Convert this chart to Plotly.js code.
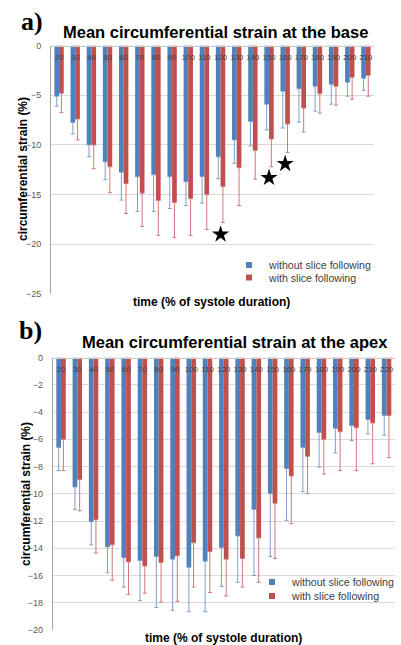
<!DOCTYPE html>
<html>
<head>
<meta charset="utf-8">
<script src="https://cdn.plot.ly/plotly-3.0.1.min.js"></script>
<style>html,body{margin:0;padding:0;background:#fff;}#chart{width:401px;height:645px;}</style>
</head>
<body>
<div id="chart"></div>
<script>
// ---- Data: (a) base ----
const catsBase = ['20','30','40','50','60','70','80','90','100','110','120','130','140','150','160','170','180','190','200','210'];
const baseWithout   = [-5.1,-7.75,-10.0,-11.7,-12.75,-13.2,-13.0,-13.2,-13.7,-13.2,-11.2,-9.5,-7.65,-5.9,-4.6,-4.35,-4.1,-3.9,-3.7,-3.3];
const baseWithoutSD = [1.0,1.15,1.2,1.8,2.8,3.5,3.7,3.2,2.4,2.65,2.2,2.35,2.45,2.6,3.7,3.35,2.5,2.0,1.4,1.2];
const baseWith      = [-4.8,-7.4,-10.0,-12.2,-13.9,-14.85,-15.6,-15.8,-15.4,-15.0,-14.2,-12.3,-10.55,-9.4,-7.9,-6.3,-4.85,-4.1,-3.2,-3.0];
const baseWithSD    = [1.95,2.1,2.4,2.6,3.0,3.35,3.5,3.5,3.7,3.5,3.6,3.8,2.9,2.8,2.85,2.4,1.95,1.9,2.2,2.1];
const starCats = ['120','150','160'];
const starVals = [-19.0,-13.3,-11.9];

// ---- Data: (b) apex ----
const catsApex = ['20','30','40','50','60','70','80','90','100','110','120','130','140','150','160','170','180','190','200','210','220'];
const apexWithout   = [-6.6,-9.5,-12.05,-13.9,-14.7,-14.9,-14.6,-14.8,-15.4,-14.95,-13.95,-13.1,-11.15,-10.0,-8.15,-6.6,-5.5,-5.2,-5.0,-4.55,-4.25];
const apexWithoutSD = [1.7,1.65,1.7,1.9,2.15,2.95,3.75,3.75,3.25,3.7,2.85,3.4,4.85,4.6,3.8,3.25,2.55,1.8,1.1,1.05,1.45];
const apexWith      = [-6.0,-8.95,-11.9,-13.75,-15.0,-15.3,-15.05,-14.55,-13.6,-14.25,-14.8,-14.75,-13.25,-10.7,-8.7,-7.25,-6.0,-5.45,-5.15,-4.8,-4.25];
const apexWithSD    = [2.3,2.3,2.45,2.6,2.4,2.0,2.9,3.35,3.25,3.0,2.7,2.1,3.25,4.05,3.5,2.75,2.55,2.85,3.15,3.0,3.1];

const seriesNames = ['without slice following','with slice following'];

// ---- Styles ----
const BLUE = '#4F81BD', RED = '#C0504D';
const BLUE_ERR = '#7f9fca', RED_ERR = '#cf7a78';
const W = 401, H = 645;
const FONT = 'Liberation Sans, Arial, sans-serif';

function bar(x, y, sd, color, ecolor, xa, ya, name) {
  return {
    type: 'bar', x: x, y: y, name: name, xaxis: xa, yaxis: ya,
    marker: {color: color, line: {width: 0}},
    showlegend: false, hoverinfo: 'x+y',
    error_y: {type: 'data', symmetric: false, array: sd.map(() => 0), arrayminus: sd,
              color: ecolor, thickness: 1, width: 2}
  };
}
function legendItem(color, name, xa, ya, leg) {
  return {type: 'scatter', mode: 'markers', x: [null], y: [null], xaxis: xa, yaxis: ya,
          name: name, legend: leg, marker: {symbol: 'square', size: 6, color: color}};
}

const data = [
  bar(catsBase, baseWithout, baseWithoutSD, BLUE, BLUE_ERR, 'x', 'y', seriesNames[0]),
  bar(catsBase, baseWith, baseWithSD, RED, RED_ERR, 'x', 'y', seriesNames[1]),
  {type: 'scatter', mode: 'markers', x: starCats, y: starVals, xaxis: 'x', yaxis: 'y',
   marker: {symbol: 'star', size: 13, color: '#000'}, showlegend: false, hoverinfo: 'skip'},
  legendItem(BLUE, seriesNames[0], 'x', 'y', 'legend'),
  legendItem(RED, seriesNames[1], 'x', 'y', 'legend2'),
  bar(catsApex, apexWithout, apexWithoutSD, BLUE, BLUE_ERR, 'x2', 'y2', seriesNames[0]),
  bar(catsApex, apexWith, apexWithSD, RED, RED_ERR, 'x2', 'y2', seriesNames[1]),
  legendItem(BLUE, seriesNames[0], 'x2', 'y2', 'legend3'),
  legendItem(RED, seriesNames[1], 'x2', 'y2', 'legend4')
];

const xCommon = {
  type: 'category', side: 'bottom', anchor: 'free', ticks: '',
  showline: true, linecolor: '#c8c8c8', linewidth: 1, showgrid: false, zeroline: false,
  tickfont: {size: 7.8, color: '#404040', family: FONT}, ticklabelstandoff: 4, fixedrange: true
};
const yCommon = {
  showgrid: true, gridcolor: '#d9d9d9', gridwidth: 1, zeroline: false,
  showline: true, linecolor: '#a6a6a6', linewidth: 1, ticks: '',
  tickfont: {size: 9, color: '#595959', family: FONT}, ticklabelstandoff: 7, fixedrange: true
};

function leg(xLeftPx, yMidPx) {
  return {x: xLeftPx / W, xanchor: 'left', y: 1 - yMidPx / H, yanchor: 'middle',
          bgcolor: 'rgba(0,0,0,0)', font: {size: 10.6, color: '#404040', family: FONT},
          itemwidth: 30, tracegroupgap: 0};
}

function ann(text, xpx, ypx, size, extra) {
  return Object.assign({text: text, xref: 'paper', yref: 'paper', x: xpx / W, y: 1 - ypx / H,
    showarrow: false, xanchor: 'center', yanchor: 'middle',
    font: {size: size, color: '#000', family: FONT}}, extra || {});
}

const topA = 45.5, botA = 294, topB = 357.5, botB = 630;

const layout = {
  width: W, height: H,
  margin: {l: 0, r: 0, t: 0, b: 0},
  paper_bgcolor: '#fff', plot_bgcolor: '#fff',
  font: {family: FONT},
  barmode: 'group', bargap: 0.42, bargroupgap: 0,
  xaxis: Object.assign({}, xCommon, {domain: [51 / W, 374 / W], position: 1 - topA / H}),
  yaxis: Object.assign({}, yCommon, {domain: [1 - botA / H, 1 - topA / H], anchor: 'x', range: [-25, 0], dtick: 5, tick0: 0}),
  xaxis2: Object.assign({}, xCommon, {domain: [52.9 / W, 394.7 / W], position: 1 - topB / H}),
  yaxis2: Object.assign({}, yCommon, {domain: [1 - botB / H, 1 - topB / H], anchor: 'x2', range: [-20, 0], dtick: 2, tick0: 0}),
  legend: leg(229, 265),
  legend2: leg(229, 277.5),
  legend3: leg(252, 582),
  legend4: leg(252, 596),
  annotations: [
    ann('<b>a)</b>', 32, 21, 26, {font: {size: 26, color: '#000', family: 'Liberation Serif, Times New Roman, serif'}}),
    ann('<b>Mean circumferential strain at the base</b>', 215.5, 31.5, 16.5),
    ann('<b>circumferential strain (%)</b>', 23, 169, 12, {textangle: -90}),
    ann('<b>time (% of systole duration)</b>', 211, 302.5, 12),
    ann('<b>b)</b>', 30, 330, 26, {font: {size: 26, color: '#000', family: 'Liberation Serif, Times New Roman, serif'}}),
    ann('<b>Mean circumferential strain at the apex</b>', 235, 341.5, 16.5),
    ann('<b>circumferential strain (%)</b>', 26, 494, 12, {textangle: -90}),
    ann('<b>time (% of systole duration)</b>', 224, 637.5, 12)
  ]
};

Plotly.newPlot('chart', data, layout, {staticPlot: true, displayModeBar: false});
</script>
</body>
</html>
